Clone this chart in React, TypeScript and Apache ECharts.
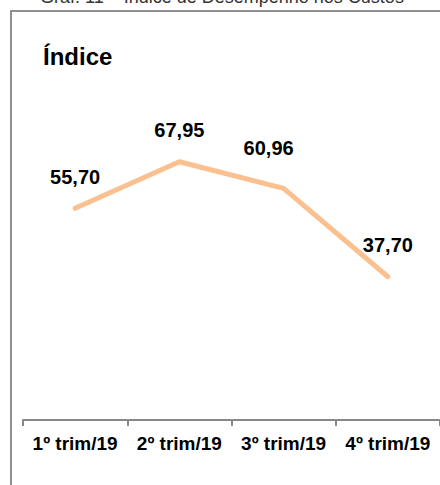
import React, { useEffect, useRef } from "react";
import * as echarts from "echarts";

const categories = ["1º trim/19", "2º trim/19", "3º trim/19", "4º trim/19"];
const values = [55.7, 67.95, 60.96, 37.7];
const labelTexts = ["55,70", "67,95", "60,96", "37,70"];
const yAxisTitle = "Índice";
const chartTitle = "Gráf. 11 – Índice de Desempenho nos Custos";

const FONT = "'Liberation Sans', Arial, sans-serif";

export default function App() {
  const ref = useRef<HTMLDivElement>(null);
  useEffect(() => {
    if (!ref.current) return;
    const chart = echarts.init(ref.current, null, { renderer: "svg" });
    const data = values.map((v, i) => ({
      value: v,
      label: {
        formatter: labelTexts[i],
        offset: i === 2 ? [-15, -9] : [0, 0],
      },
    }));
    chart.setOption({
      animation: false,
      backgroundColor: "#ffffff",
      grid: { left: 23, right: 0, top: 40, bottom: 65 },
      graphic: [
        {
          type: "rect",
          shape: { x: 11, y: 11, width: 600, height: 600 },
          style: { fill: "none", stroke: "#8f8f8f", lineWidth: 2 },
          silent: true,
        },
        {
          type: "text",
          x: 40,
          y: 6,
          style: {
            text: chartTitle,
            font: `18px ${FONT}`,
            fill: "#333333",
            verticalAlign: "bottom",
          },
        },
        {
          type: "text",
          x: 43,
          y: 44,
          style: {
            text: yAxisTitle,
            font: `bold 24px ${FONT}`,
            fill: "#000000",
            verticalAlign: "top",
          },
        },
      ],
      xAxis: {
        type: "category",
        data: categories,
        boundaryGap: true,
        axisLine: { show: true, lineStyle: { color: "#888888", width: 2 } },
        axisTick: { show: true, length: 6, lineStyle: { color: "#888888", width: 2 } },
        axisLabel: {
          margin: 14,
          color: "#000000",
          fontFamily: FONT,
          fontWeight: "bold",
          fontSize: 19,
          interval: 0,
        },
        splitLine: { show: false },
      },
      yAxis: {
        type: "value",
        min: 0,
        max: 100,
        show: false,
        splitLine: { show: false },
      },
      series: [
        {
          type: "line",
          data,
          symbol: "circle",
          symbolSize: 1,
          showSymbol: true,
          itemStyle: { color: "rgba(0,0,0,0)" },
          lineStyle: { color: "#fac08f", width: 5, cap: "round", join: "round" },
          label: {
            show: true,
            position: "top",
            distance: 21,
            color: "#000000",
            fontFamily: FONT,
            fontWeight: "bold",
            fontSize: 20,
          },
          emphasis: { disabled: true },
        },
      ],
    });
    return () => chart.dispose();
  }, []);
  return (
    <div
      ref={ref}
      style={{ position: "absolute", left: 0, top: 0, width: 440, height: 485 }}
    />
  );
}
